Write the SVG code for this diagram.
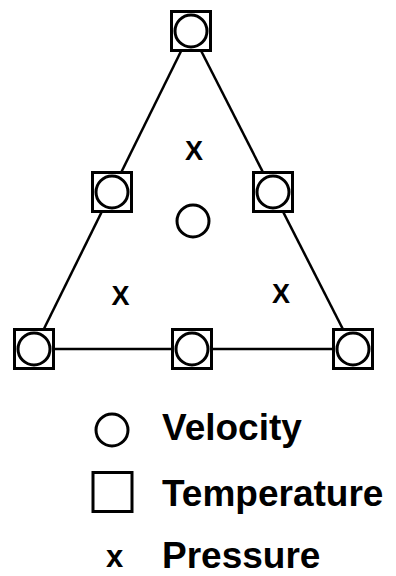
<svg xmlns="http://www.w3.org/2000/svg" width="396" height="576" viewBox="0 0 396 576">
<style>
.sq{fill:#fff;stroke:#000;stroke-width:3}
.ci{fill:none;stroke:#000;stroke-width:3}
.ln{stroke:#000;stroke-width:2.5;fill:none}
.lbl{font-family:"Liberation Sans",Arial,sans-serif;font-weight:bold;fill:#000}
</style>
<defs>
<g id="node"><rect class="sq" x="-19.5" y="-19.5" width="39" height="39"/><circle class="ci" cx="0" cy="0" r="16"/></g>
</defs>
<rect width="396" height="576" fill="#fff"/>
<g id="connectors">
<line class="ln" x1="191" y1="31" x2="34" y2="349"/>
<line class="ln" x1="191" y1="31" x2="353" y2="349"/>
<line class="ln" x1="34" y1="349" x2="353" y2="349"/>
</g>
<g id="n-top"><use href="#node" x="191" y="31"/></g>
<g id="n-left"><use href="#node" x="112" y="192"/></g>
<g id="n-right"><use href="#node" x="273" y="192"/></g>
<g id="n-bl"><use href="#node" x="34" y="349"/></g>
<g id="n-bm"><use href="#node" x="192" y="349"/></g>
<g id="n-br"><use href="#node" x="353" y="349"/></g>
<g id="center-velocity"><circle class="ci" cx="193" cy="221" r="16"/></g>
<g id="pressure-points" class="lbl" font-size="27" text-anchor="middle">
<text x="194" y="160">X</text>
<text x="120.5" y="305">X</text>
<text x="281" y="303">X</text>
</g>
<g id="legend">
<circle class="ci" cx="112" cy="430" r="16"/>
<rect class="ci" x="93" y="472.5" width="39" height="39"/>
<text class="lbl" x="114.5" y="567" font-size="31" text-anchor="middle">x</text>
<text class="lbl" x="162" y="440" font-size="37">Velocity</text>
<text class="lbl" x="162" y="506" font-size="37">Temperature</text>
<text class="lbl" x="162" y="568" font-size="37">Pressure</text>
</g>
</svg>
